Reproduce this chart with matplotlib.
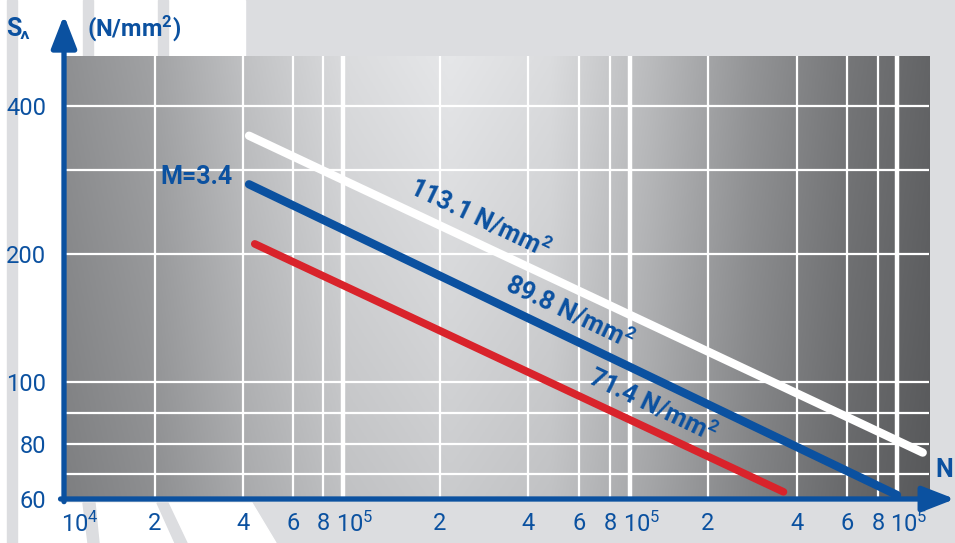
import numpy as np
import matplotlib
matplotlib.use("Agg")
import matplotlib.pyplot as plt
from matplotlib.patches import Polygon, Rectangle
from matplotlib.transforms import ScaledTranslation

plt.rcParams['font.family'] = ['Roboto', 'DejaVu Sans']
plt.rcParams['mathtext.default'] = 'regular'

AZUL = '#0b51a0'
ROJO = '#d9232b'

# rectas de Woehler: ciclos N y tension S (N/mm2) en los extremos
blanca_n = [4.2e4, 1.25e7]
blanca_s = [350, 77]
azul_n = [4.2e4, 1.0e7]
azul_s = [280, 61.5]
roja_n = [4.4e4, 3.6e6]
roja_s = [210, 62.7]

etiquetas = ['113.1 N/mm$^2$', '89.8 N/mm$^2$', '71.4 N/mm$^2$']
etiqueta_n = [2.74e5, 5.58e5, 1.22e6]
etiqueta_s = [238, 146, 92.5]

# ejes
x_ticks = [1e4, 2e4, 4e4, 6e4, 8e4, 1e5, 2e5, 4e5, 6e5, 8e5,
           1e6, 2e6, 4e6, 6e6, 8e6, 1e7]
x_labels = ['$10^4$', '2', '4', '6', '8', '$10^5$', '2', '4', '6', '8',
            '$10^5$', '2', '4', '6', '8', '$10^5$']
x_decadas = [1e5, 1e6, 1e7]
y_ticks = [60, 80, 100, 200, 400]
y_grid = [70, 90, 300]

# la escala del dibujo original no es log exacta: se reproduce por tramos
x_nudos = np.log10([1e4, 2e4, 4e4, 6e4, 8e4, 1e5, 2e5, 4e5, 6e5, 8e5,
                    1e6, 2e6, 4e6, 6e6, 8e6, 1e7, 1.32e7])
x_nudos_px = np.array([64, 155, 243, 293, 323, 343, 440, 528, 579, 610,
                       630, 708, 797, 847, 878, 897, 929], float)
y_nudos = np.log10([60, 70, 80, 90, 100, 200, 300, 400, 506])
y_nudos_px = 499 - np.array([499, 474, 444, 413, 382, 254, 170, 106, 56], float)


def x_fwd(v):
    v = np.clip(np.asarray(v, float), 1e-9, None)
    return np.interp(np.log10(v), x_nudos, x_nudos_px)


def x_inv(p):
    return 10 ** np.interp(p, x_nudos_px, x_nudos)


def y_fwd(v):
    v = np.clip(np.asarray(v, float), 1e-9, None)
    return np.interp(np.log10(v), y_nudos, y_nudos_px)


def y_inv(p):
    return 10 ** np.interp(p, y_nudos_px, y_nudos)


W, H = 955, 543
fig = plt.figure(figsize=(W / 100, H / 100), dpi=100)
fig.patch.set_facecolor('#dcdde0')


def px(x, y):
    return (x / W, 1 - y / H)


# decorado de fondo de la pagina
blanco = '#ffffff'
gris = '#dcdde0'
fig.add_artist(Rectangle(px(0, 543), 64 / W, 1, transform=fig.transFigure, color=blanco, zorder=0))
fig.add_artist(Rectangle(px(0, 57), 245 / W, 57 / H, transform=fig.transFigure, color=blanco, zorder=0))
fig.add_artist(Polygon([px(17, 503), px(252, 503), px(276, 543), px(17, 543)],
                       transform=fig.transFigure, color=blanco, zorder=0))
fig.add_artist(Rectangle(px(7, 543), 10 / W, 1, transform=fig.transFigure, color=gris, zorder=0))
for xs in (83, 158):
    fig.add_artist(Rectangle(px(xs, 57), 10 / W, 57 / H, transform=fig.transFigure, color=gris, zorder=0))
fig.add_artist(Polygon([px(83, 503), px(95, 503), px(99, 543), px(88, 543)],
                       transform=fig.transFigure, color=gris, zorder=0))
fig.add_artist(Polygon([px(157, 503), px(168, 503), px(187, 543), px(175, 543)],
                       transform=fig.transFigure, color=gris, zorder=0))

rect = [64 / W, 1 - 499 / H, (929 - 64) / W, (499 - 56) / H]

# fondo degradado
bg = fig.add_axes(rect, zorder=0)
xx = np.linspace(64, 929, 300)
perfil = np.interp(xx, [64, 150, 250, 350, 450, 550, 650, 750, 850, 929],
                   [0.56, 0.63, 0.76, 0.86, 0.90, 0.86, 0.73, 0.58, 0.46, 0.39])
vert = np.linspace(0.88, 1.0, 120)[:, None]
lum = perfil[None, :] * vert
img = np.dstack([lum, lum + 0.004, lum + 0.012]).clip(0, 1)
bg.imshow(img, extent=[0, 1, 0, 1], aspect='auto', origin='lower')
bg.set_axis_off()

ax = fig.add_axes(rect, zorder=1)
ax.patch.set_alpha(0)
ax.set_xscale('function', functions=(x_fwd, x_inv))
ax.set_yscale('function', functions=(y_fwd, y_inv))
ax.set_xlim(1e4, 1.32e7)
ax.set_ylim(60, 506)
for s in ax.spines.values():
    s.set_visible(False)

# rejilla
ax.set_xticks(x_ticks)
ax.set_xticklabels(x_labels)
ax.set_yticks(y_ticks)
ax.set_yticklabels([str(v) for v in y_ticks])
ax.set_yticks(y_grid, minor=True)
ax.set_xticks([], minor=True)
ax.grid(which='both', color='white', lw=1.6)
for d in x_decadas:
    ax.axvline(d, color='white', lw=3.2, zorder=1.5)
ax.tick_params(which='both', length=0, colors=AZUL)
ax.tick_params(axis='x', labelsize=17, pad=9)
ax.tick_params(axis='y', labelsize=17, pad=13)
for lab, t in zip(ax.get_xticklabels(), x_ticks):
    if lab.get_text().startswith('$'):
        dx = 16 if t == 1e4 else 12
        lab.set_transform(lab.get_transform() + ScaledTranslation(dx / 100, 0, fig.dpi_scale_trans))

# rectas
ax.plot(blanca_n, blanca_s, color='white', lw=6, solid_capstyle='round', zorder=3)
ax.plot(azul_n, azul_s, color=AZUL, lw=6, solid_capstyle='round', zorder=3)
ax.plot(roja_n, roja_s, color=ROJO, lw=5.5, solid_capstyle='round', zorder=3)

for txt, n, s in zip(etiquetas, etiqueta_n, etiqueta_s):
    ax.text(n, s, txt, color=AZUL, fontsize=18, fontweight='bold', rotation=-25.5,
            rotation_mode='anchor', ha='center', va='center', zorder=4)
ax.text(3.7e4, 290, 'M=3.4', color=AZUL, fontsize=18, fontweight='bold',
        ha='right', va='center', zorder=4)

# ejes con flecha
flecha = dict(arrowstyle='-|>,head_length=0.9,head_width=0.35', color=AZUL, lw=3.8,
              mutation_scale=22, shrinkA=0, shrinkB=0)
ax.annotate('', xy=(1.03, 0), xytext=(-0.004, 0), xycoords='axes fraction',
            arrowprops=flecha, annotation_clip=False, zorder=5)
ax.annotate('', xy=(0, 1.092), xytext=(0, -0.006), xycoords='axes fraction',
            arrowprops=flecha, annotation_clip=False, zorder=5)

fig.text(6 / W, 1 - 29 / H, 'S', color=AZUL, fontsize=18, fontweight='bold', va='center')
fig.text(20 / W, 1 - 30 / H, '^', color=AZUL, fontsize=16, fontweight='bold', va='top')
fig.text(87 / W, 1 - 28 / H, '(N/mm$^2$)', color=AZUL, fontsize=17, fontweight='bold', va='center')
fig.text(953 / W, 1 - 470 / H, 'N', color=AZUL, fontsize=18, fontweight='bold',
         ha='right', va='center')

fig.savefig('out.png', dpi=100, facecolor=fig.get_facecolor())
